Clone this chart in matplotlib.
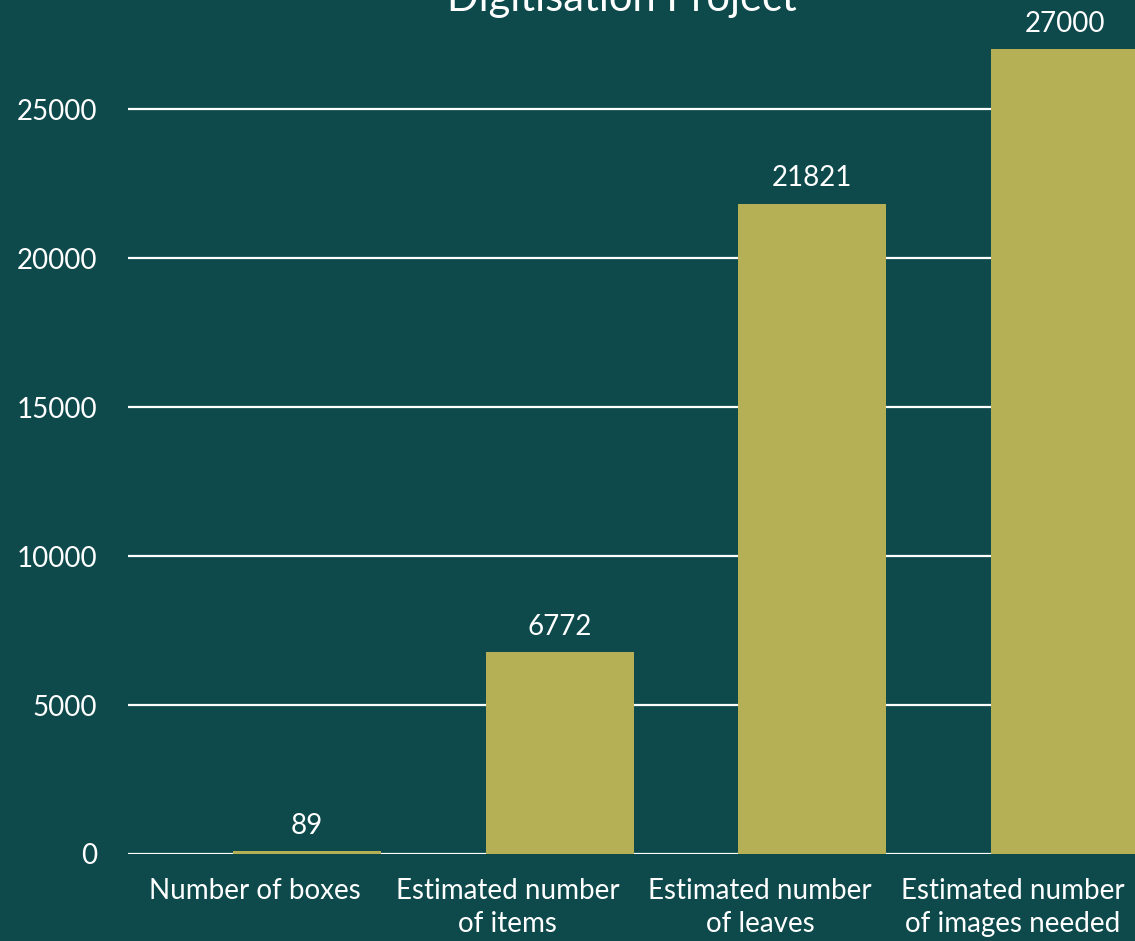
import numpy as np
import matplotlib.pyplot as plt
import matplotlib.transforms as mtransforms

categories = ['Number of boxes', 'Estimated number\nof items', 'Estimated number\nof leaves', 'Estimated number\nof images needed']
values = [89, 6772, 21821, 27000]
yticks = [0, 5000, 10000, 15000, 20000, 25000]
title = 'Digitisation Project'

bg = '#0E4A4C'
bar_color = '#B5AF56'
plt.rcParams['font.family'] = ['Lato', 'DejaVu Sans']

fig = plt.figure(figsize=(11.35, 9.41), dpi=100, facecolor=bg)
ax = fig.add_axes([128/1135, 87/941, 1 - 128/1135, 854/941])
ax.set_facecolor(bg)

x = np.arange(len(categories))
bars = ax.bar(x, values, width=0.586, color=bar_color, zorder=3)
for b, v in zip(bars, values):
    ax.annotate(str(v), (b.get_x() + b.get_width()/2, v), xytext=(0, 9), textcoords='offset points',
                ha='center', va='bottom', color='white', fontsize=20)

ax.set_xlim(-0.709, 3.279)
ax.set_ylim(0, 28658)
ax.set_yticks(yticks)
ax.set_xticks(x)
ax.set_xticklabels(categories, color='white', fontsize=20, linespacing=1.35)
ax.tick_params(axis='y', colors='white', labelsize=20, length=0, pad=22)
ax.tick_params(axis='x', colors='white', length=0, pad=17)
ax.grid(axis='y', color='white', linewidth=1.6, zorder=1)
for s in ax.spines.values():
    s.set_visible(False)

# category labels sit a little left of their bars in the original
shift = mtransforms.ScaledTranslation(-0.52, 0, fig.dpi_scale_trans)
for lab in ax.get_xticklabels():
    lab.set_transform(lab.get_transform() + shift)

fig.text(622/1135, 1 - 11/941, title, ha='center', va='baseline', color='white', fontsize=30)

fig.savefig('out.png', dpi=100, facecolor=bg)
